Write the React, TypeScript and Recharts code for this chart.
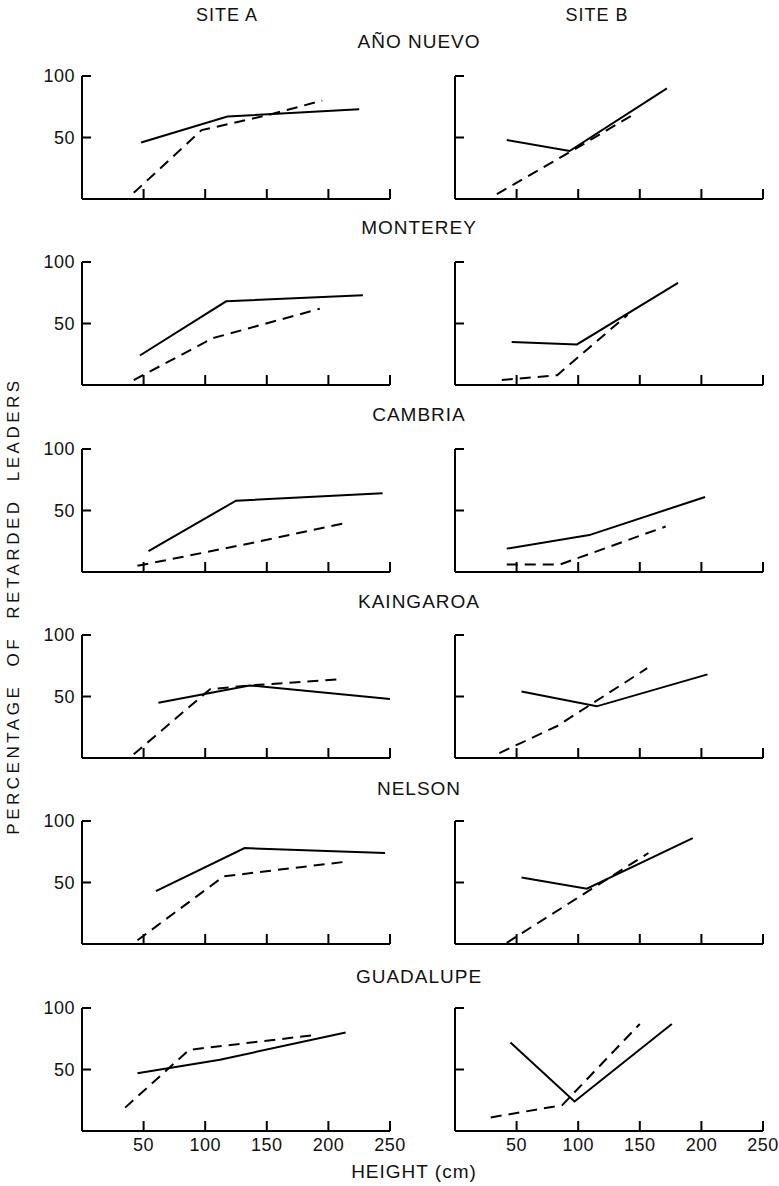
import React from "react"
import { LineChart, Line, XAxis, YAxis } from "recharts"

// titles
const siteNames = ["SITE A", "SITE B"]
const locations = ["AÑO NUEVO", "MONTEREY", "CAMBRIA", "KAINGAROA", "NELSON", "GUADALUPE"]
const heightTicks = [50, 100, 150, 200, 250]
const pctTicks = [50, 100]

// [height cm, % retarded leaders]
const anoNuevoA_solid = [[48, 46], [118, 67], [225, 73]]
const anoNuevoA_dashed = [[42, 5], [97, 56], [150, 68], [195, 80]]
const anoNuevoB_solid = [[42, 48], [93, 39], [172, 90]]
const anoNuevoB_dashed = [[34, 4], [93, 38], [147, 70]]

const montereyA_solid = [[47, 24], [117, 68], [228, 73]]
const montereyA_dashed = [[42, 4], [106, 38], [193, 62]]
const montereyB_solid = [[46, 35], [99, 33], [181, 83]]
const montereyB_dashed = [[38, 4], [83, 8], [140, 57]]

const cambriaA_solid = [[54, 17], [125, 58], [244, 64]]
const cambriaA_dashed = [[45, 5], [130, 22], [215, 40]]
const cambriaB_solid = [[42, 19], [109, 30], [203, 61]]
const cambriaB_dashed = [[42, 6], [85, 6], [171, 37]]

const kaingaroaA_solid = [[62, 45], [136, 59], [250, 48]]
const kaingaroaA_dashed = [[42, 3], [104, 56], [136, 59], [209, 64]]
const kaingaroaB_solid = [[54, 54], [115, 42], [205, 68]]
const kaingaroaB_dashed = [[36, 4], [83, 26], [156, 73]]

const nelsonA_solid = [[60, 43], [132, 78], [246, 74]]
const nelsonA_dashed = [[45, 3], [115, 55], [215, 67]]
const nelsonB_solid = [[54, 54], [107, 45], [193, 86]]
const nelsonB_dashed = [[42, 1], [157, 74]]

const guadalupeA_solid = [[45, 47], [112, 58], [214, 80]]
const guadalupeA_dashed = [[35, 19], [87, 66], [189, 78]]
const guadalupeB_solid = [[45, 72], [97, 24], [176, 87]]
const guadalupeB_dashed = [[29, 11], [87, 21], [150, 87]]

const rows = [
  [anoNuevoA_solid, anoNuevoA_dashed, anoNuevoB_solid, anoNuevoB_dashed],
  [montereyA_solid, montereyA_dashed, montereyB_solid, montereyB_dashed],
  [cambriaA_solid, cambriaA_dashed, cambriaB_solid, cambriaB_dashed],
  [kaingaroaA_solid, kaingaroaA_dashed, kaingaroaB_solid, kaingaroaB_dashed],
  [nelsonA_solid, nelsonA_dashed, nelsonB_solid, nelsonB_dashed],
  [guadalupeA_solid, guadalupeA_dashed, guadalupeB_solid, guadalupeB_dashed],
]

const axisY = [199, 385, 572, 758, 944, 1131]
const titleY = [42, 228, 415, 602, 789, 977]
const PLOT_H = 123
const PLOT_W = 308
const TOP = 10
const FONT = "'Liberation Sans', Arial, sans-serif"

const toPts = (arr) => arr.map(([h, p]) => ({ h, p }))

function XTick({ x, y, payload, showLabel }) {
  return (
    <g>
      <line x1={x} y1={y} x2={x} y2={y - 10} stroke="#000" strokeWidth={2} />
      {showLabel && (
        <text x={x} y={y + 20} textAnchor="middle" fontSize={18} letterSpacing={0.5} fontFamily={FONT} fill="#111">
          {payload.value}
        </text>
      )}
    </g>
  )
}

function YTick({ x, y, payload, showLabel }) {
  return (
    <g>
      <line x1={x} y1={y} x2={x + 9} y2={y} stroke="#000" strokeWidth={2} />
      {showLabel && (
        <text x={x - 7} y={y + 6} textAnchor="end" fontSize={18} letterSpacing={0.5} fontFamily={FONT} fill="#111">
          {payload.value}
        </text>
      )}
    </g>
  )
}

function Panel({ solid, dashed, left, axis, yLabels, xLabels }) {
  return (
    <div style={{ position: "absolute", left, top: axis - PLOT_H - TOP }}>
      <LineChart width={82 + PLOT_W + 30} height={TOP + PLOT_H + 35} margin={{ top: TOP, right: 30, bottom: 5, left: 42 }}>
        <XAxis
          type="number"
          dataKey="h"
          domain={[0, 250]}
          ticks={heightTicks}
          allowDataOverflow
          height={30}
          tickSize={0}
          tickMargin={0}
          tickLine={false}
          axisLine={{ stroke: "#000", strokeWidth: 2 }}
          tick={(p) => <XTick {...p} showLabel={xLabels} />}
        />
        <YAxis
          type="number"
          domain={[0, 100]}
          ticks={pctTicks}
          width={40}
          tickSize={0}
          tickMargin={0}
          tickLine={false}
          axisLine={{ stroke: "#000", strokeWidth: 2 }}
          tick={(p) => <YTick {...p} showLabel={yLabels} />}
        />
        <Line data={toPts(solid)} dataKey="p" type="linear" stroke="#000" strokeWidth={2} dot={false} isAnimationActive={false} />
        <Line data={toPts(dashed)} dataKey="p" type="linear" stroke="#000" strokeWidth={2} strokeDasharray="11 7" dot={false} isAnimationActive={false} />
      </LineChart>
    </div>
  )
}

const textStyle = (x, y, size = 18) => ({
  position: "absolute",
  left: x,
  top: y,
  transform: "translate(-50%, -50%)",
  fontSize: size,
  fontFamily: FONT,
  color: "#111",
  whiteSpace: "nowrap",
  letterSpacing: 1,
})

export default function App() {
  return (
    <div style={{ position: "absolute", left: 0, top: 0, width: 779, height: 1186, background: "#fff", overflow: "hidden" }}>
      <div style={textStyle(227, 15)}>{siteNames[0]}</div>
      <div style={textStyle(597, 15)}>{siteNames[1]}</div>
      {rows.map((r, i) => (
        <React.Fragment key={locations[i]}>
          <div style={textStyle(419, titleY[i], 19)}>{locations[i]}</div>
          <Panel solid={r[0]} dashed={r[1]} left={0} axis={axisY[i]} yLabels xLabels={i === rows.length - 1} />
          <Panel solid={r[2]} dashed={r[3]} left={373} axis={axisY[i]} yLabels={false} xLabels={i === rows.length - 1} />
        </React.Fragment>
      ))}
      <div style={textStyle(414, 1172, 19)}>HEIGHT (cm)</div>
      <div
        style={{
          ...textStyle(14, 606, 17),
          transform: "translate(-50%, -50%) rotate(-90deg)",
          letterSpacing: 3.5,
          wordSpacing: 9,
        }}
      >
        PERCENTAGE OF RETARDED LEADERS
      </div>
    </div>
  )
}
